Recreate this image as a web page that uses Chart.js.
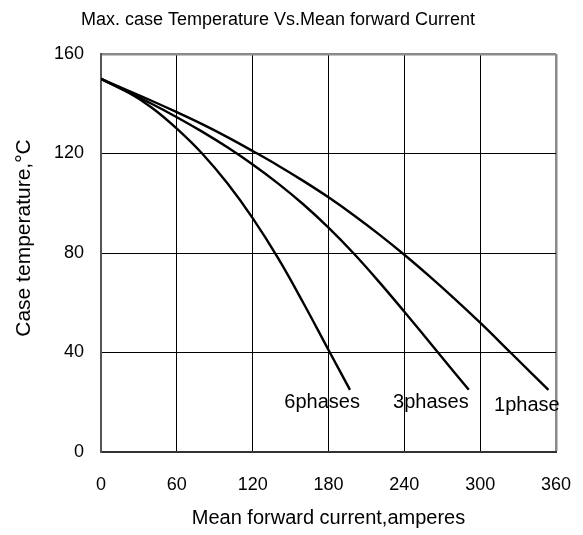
<!DOCTYPE html>
<html>
<head>
<meta charset="utf-8">
<script src="https://cdn.jsdelivr.net/npm/chart.js@4/dist/chart.umd.min.js"></script>
<style>
  html, body { margin: 0; padding: 0; background: #fff; }
  #wrap { width: 583px; height: 535px; }
</style>
</head>
<body>
<div id="wrap"><canvas id="c" width="583" height="535"></canvas></div>
<script>
// ---- data ----
const chartTitle = "Max. case Temperature Vs.Mean forward Current";
const xAxisTitle = "Mean forward current,amperes";
const yAxisTitle = "Case temperature,°C";

const xTicks = [0, 60, 120, 180, 240, 300, 360];
const yTicks = [0, 40, 80, 120, 160];

const seriesNames = ["1phase", "3phases", "6phases"];

const current1phase = [0, 20, 40, 60, 80, 100, 120, 140, 160, 180, 200, 220, 240, 260, 280, 300, 325, 354];
const temp1phase    = [150, 145.6, 141.2, 136.6, 131.8, 126.6, 121, 115.2, 109, 102.4, 95.2, 87.5, 79.3, 70.6, 61.5, 52, 39.5, 25];

const current3phases = [0, 20, 40, 60, 80, 100, 120, 140, 160, 180, 200, 220, 240, 265, 291];
const temp3phases    = [150, 145, 140, 134.6, 128.8, 122.5, 115.6, 108, 99.6, 90.2, 79.8, 68.4, 56.4, 41, 25];

const current6phases = [0, 20, 40, 60, 80, 100, 120, 140, 160, 180, 197];
const temp6phases    = [150, 145, 138.5, 130, 120, 108, 94, 78, 60, 41, 25];

// curve label anchors (in data units)
const labelX = [337, 261, 175];
const labelY = [18.5, 20, 20];

function pts(xs, ys) { return xs.map((x, i) => ({ x: x, y: ys[i] })); }

const FONT = "'Liberation Sans', Arial, sans-serif";

const curveLabels = {
  id: 'curveLabels',
  afterDatasetsDraw(chart) {
    const { ctx, scales } = chart;
    ctx.save();
    ctx.fillStyle = '#000';
    ctx.font = '20px ' + FONT;
    ctx.textAlign = 'center';
    ctx.textBaseline = 'middle';
    seriesNames.forEach((n, i) => {
      ctx.fillText(n, scales.x.getPixelForValue(labelX[i]), scales.y.getPixelForValue(labelY[i]));
    });
    ctx.restore();
  }
};

const yTitlePlugin = {
  id: 'yTitlePlugin',
  afterDraw(chart) {
    const { ctx, scales } = chart;
    const yMid = (scales.y.top + scales.y.bottom) / 2 - 15;
    ctx.save();
    ctx.translate(24, yMid);
    ctx.rotate(-Math.PI / 2);
    ctx.fillStyle = '#000';
    ctx.font = '21px ' + FONT;
    ctx.textAlign = 'center';
    ctx.textBaseline = 'middle';
    ctx.fillText(yAxisTitle, 0, 0);
    ctx.restore();
  }
};

const lineStyle = { borderColor: '#000', borderWidth: 2.4, pointRadius: 0, fill: false,
  tension: 0.4, showLine: true };

new Chart(document.getElementById('c'), {
  type: 'scatter',
  data: {
    datasets: [
      Object.assign({ label: seriesNames[0], data: pts(current1phase, temp1phase) }, lineStyle),
      Object.assign({ label: seriesNames[1], data: pts(current3phases, temp3phases) }, lineStyle),
      Object.assign({ label: seriesNames[2], data: pts(current6phases, temp6phases) }, lineStyle)
    ]
  },
  options: {
    responsive: false,
    animation: false,
    devicePixelRatio: 1,
    layout: { padding: { left: 0, right: 27, top: 0, bottom: 0 } },
    plugins: {
      legend: { display: false },
      tooltip: { enabled: false },
      title: {
        display: true,
        text: chartTitle,
        color: '#000',
        font: { family: FONT, size: 18, weight: 'normal', lineHeight: 1.2 },
        padding: { top: 9, bottom: 23.4 }
      }
    },
    scales: {
      x: {
        type: 'linear',
        min: 0, max: 360,
        afterBuildTicks(s) { s.ticks = xTicks.map(v => ({ value: v })); },
        afterFit(s) { s.height = 83; s.paddingLeft = 0; s.paddingRight = 0; },
        ticks: { color: '#000', font: { family: FONT, size: 18 }, padding: 22, maxRotation: 0 },
        grid: {
          drawTicks: false,
          color: (c) => c.tick && c.tick.value === 360 ? '#8a8a8a' : '#000',
          lineWidth: (c) => c.tick && c.tick.value === 360 ? 2.5 : 1
        },
        border: { display: true, color: '#333', width: 2 },
        title: {
          display: true, text: xAxisTitle, color: '#000',
          font: { family: FONT, size: 20, lineHeight: 1.2 },
          padding: { top: 0, bottom: 5 }
        }
      },
      y: {
        type: 'linear',
        min: 0, max: 160,
        afterBuildTicks(s) { s.ticks = yTicks.map(v => ({ value: v })); },
        afterFit(s) { s.width = 101; s.paddingTop = 0; s.paddingBottom = 0; },
        ticks: { color: '#000', font: { family: FONT, size: 18 }, padding: 17 },
        grid: {
          drawTicks: false,
          color: (c) => c.tick && c.tick.value === 160 ? '#8a8a8a' : '#000',
          lineWidth: (c) => c.tick && c.tick.value === 160 ? 2.5 : 1
        },
        border: { display: true, color: '#555', width: 2 },
        title: { display: false }
      }
    }
  },
  plugins: [curveLabels, yTitlePlugin]
});
</script>
</body>
</html>
